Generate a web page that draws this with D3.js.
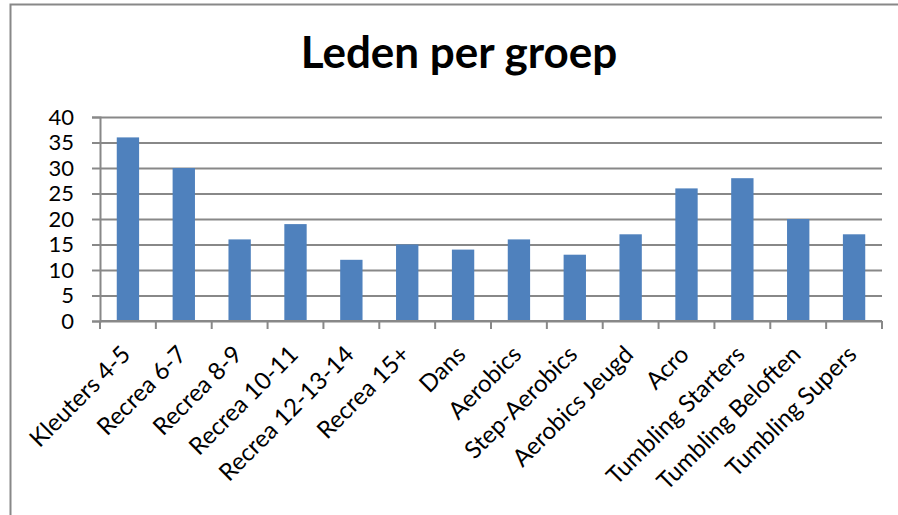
<!DOCTYPE html>
<html lang="nl">
<head>
  <meta charset="UTF-8">
  <title>Leden per groep</title>
  <script src="https://cdn.jsdelivr.net/npm/d3@7"></script>
  <style>
    body { margin: 0; background: #fff; }
    .chart-title { font-family: Lato, "Open Sans", sans-serif; font-weight: bold; fill: #000; }
    .tick text { font-family: Lato, "Open Sans", sans-serif; fill: #000; }
  </style>
</head>
<body>
  <div id="container"></div>
  <script>
    const groups = ["Kleuters 4-5", "Recrea 6-7", "Recrea 8-9", "Recrea 10-11", "Recrea 12-13-14",
      "Recrea 15+", "Dans", "Aerobics", "Step-Aerobics", "Aerobics Jeugd", "Acro",
      "Tumbling Starters", "Tumbling Beloften", "Tumbling Supers"];
    const members = [36, 30, 16, 19, 12, 15, 14, 16, 13, 17, 26, 28, 20, 17];
    const yTicks = [0, 5, 10, 15, 20, 25, 30, 35, 40];

    const data = groups.map((g, i) => ({ group: g, value: members[i] }));

    const W = 898, H = 515;
    const barColor = "#4F81BD";
    const gridColor = "#888888";

    const svg = d3.select("#container").append("svg")
      .attr("width", W)
      .attr("height", H);

    // outer chart border (runs off the bottom/right of the picture)
    svg.append("rect")
      .attr("x", 10.5).attr("y", 4.5)
      .attr("width", 900).attr("height", 520)
      .attr("fill", "#fff")
      .attr("stroke", gridColor)
      .attr("stroke-width", 2);

    const plot = { left: 100, right: 882, top: 117, bottom: 321 };

    const x = d3.scaleBand()
      .domain(groups)
      .range([plot.left, plot.right])
      .paddingInner(0.6)
      .paddingOuter(0.3);

    const y = d3.scaleLinear()
      .domain([0, 40])
      .range([plot.bottom, plot.top]);

    // horizontal gridlines + y axis
    const yAxis = svg.append("g")
      .attr("transform", `translate(${plot.left},0)`)
      .call(d3.axisLeft(y).tickValues(yTicks).tickSize(8).tickPadding(18));
    yAxis.select(".domain").attr("stroke", gridColor).attr("stroke-width", 2);
    yAxis.selectAll(".tick line").attr("stroke", gridColor).attr("stroke-width", 2);
    yAxis.selectAll(".tick").append("line")
      .attr("x1", 0).attr("x2", plot.right - plot.left)
      .attr("stroke", gridColor).attr("stroke-width", 2);
    yAxis.selectAll(".tick text").style("font-size", "22px");

    // bars
    svg.selectAll(".bar")
      .data(data)
      .enter().append("rect")
      .attr("class", "bar")
      .attr("x", d => x(d.group))
      .attr("y", d => y(d.value))
      .attr("width", x.bandwidth())
      .attr("height", d => y(0) - y(d.value))
      .attr("fill", barColor);

    // x axis with ticks between categories
    const step = x.step();
    const xAxis = svg.append("g")
      .attr("transform", `translate(0,${plot.bottom})`)
      .call(d3.axisBottom(x).tickSize(0).tickPadding(0));
    xAxis.select(".domain").remove();
    xAxis.append("line")
      .attr("x1", plot.left).attr("x2", plot.right)
      .attr("stroke", gridColor).attr("stroke-width", 2);
    xAxis.selectAll(".sep")
      .data(d3.range(groups.length + 1))
      .enter().append("line")
      .attr("class", "sep")
      .attr("x1", i => plot.left + i * step)
      .attr("x2", i => plot.left + i * step)
      .attr("y1", 0).attr("y2", 8)
      .attr("stroke", gridColor).attr("stroke-width", 2);
    xAxis.selectAll(".tick text")
      .style("font-size", "24px")
      .attr("text-anchor", "end")
      .attr("y", 0)
      .attr("dy", 0)
      .attr("transform", "translate(4,35) rotate(-45)");

    // title
    svg.append("text")
      .attr("class", "chart-title")
      .attr("x", 459)
      .attr("y", 68)
      .attr("text-anchor", "middle")
      .style("font-size", "44px")
      .text("Leden per groep");
  </script>
</body>
</html>
